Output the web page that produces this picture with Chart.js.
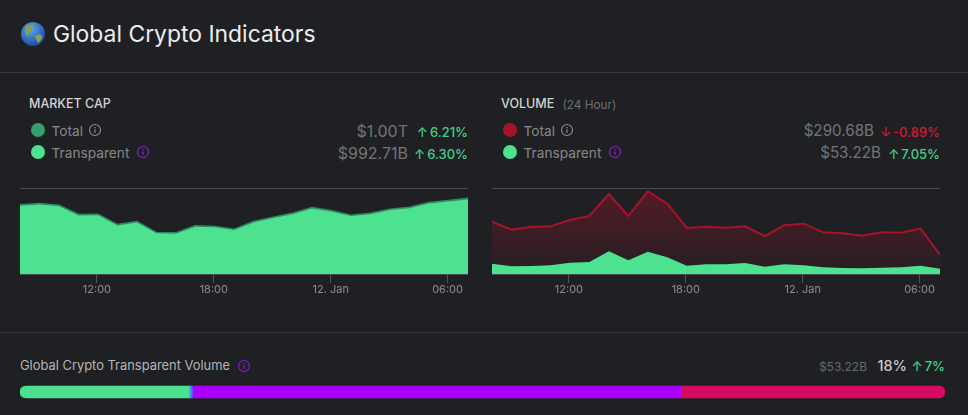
<!DOCTYPE html>
<html><head><meta charset="utf-8">
<script src="https://cdn.jsdelivr.net/npm/chart.js@4"></script>
<style>
html,body{margin:0;padding:0;background:#1f2023;overflow:hidden}
body{width:968px;height:415px;position:relative;font-family:Inter,"Noto Sans",sans-serif}
.t{position:absolute;white-space:nowrap;line-height:20px;transform:translateY(-50%)}
.r{transform:translate(-100%,-50%)}
.hr{position:absolute;left:0;width:968px;height:1px;background:#37383b}
.dot{position:absolute;width:14px;height:14px;border-radius:50%;transform:translate(-50%,-50%)}
canvas{position:absolute;display:block}
svg{position:absolute;transform:translate(-50%,-50%)}
.lab{font-size:13.7px;color:#87888a}.val{font-size:16px;color:#737476}
.pct{font-size:13px;font-weight:500;color:#41d08a;word-spacing:-1.5px}.neg{color:#cf1a33}
.head{font-size:12.5px;font-weight:500;color:#d2d3d4}
</style></head><body>
<svg style="left:33px;top:34px" width="24" height="24" viewBox="0 0 24 24" role="img" aria-label="globe"><defs><radialGradient id="g" cx=".4" cy=".3" r=".8"><stop offset="0" stop-color="#5aa9f0"/><stop offset="1" stop-color="#123f9a"/></radialGradient></defs><circle cx="12" cy="12" r="12" fill="url(#g)"/><path d="M5 5c3-3 8-3 9-2-1 2-3 2-3 4s-2 3-3 4 1 3 0 3-5-3-4-6zM14 14c2-2 6-2 7 0s-2 6-4 7c-1-2-2-4-3-7z" fill="#8aa04a"/></svg>
<div class="t" style="left:53px;top:34px;font-size:22.9px;color:#eceded" id="title">Global Crypto Indicators</div>
<div class="hr" style="top:72px"></div>
<div class="hr" style="top:332px"></div>

<div class="t head" style="left:29px;top:104px">MARKET CAP</div>
<div class="dot" style="left:38px;top:130px;background:#35a06d"></div>
<div class="t lab" style="left:51.5px;top:131px">Total</div>
<div class="dot" style="left:38px;top:152px;background:#4de290"></div>
<div class="t lab" style="left:51.5px;top:153px">Transparent</div>
<div class="t val r" style="left:408px;top:131px">$1.00T</div>
<div class="t pct r" style="left:468px;top:132px">↑ 6.21%</div>
<div class="t val r" style="left:408px;top:153px">$992.71B</div>
<div class="t pct r" style="left:468px;top:154px">↑ 6.30%</div>

<div class="t head" style="left:501px;top:104px">VOLUME</div>
<div class="t" style="left:562.5px;top:105px;font-size:11.8px;color:#6e6f71">(24 Hour)</div>
<div class="dot" style="left:510px;top:130px;background:#a8122b"></div>
<div class="t lab" style="left:523.5px;top:131px">Total</div>
<div class="dot" style="left:510px;top:152px;background:#4de290"></div>
<div class="t lab" style="left:523.5px;top:153px">Transparent</div>
<div class="t val r" style="left:874px;top:131px;font-size:15.2px">$290.68B</div>
<div class="t pct neg r" style="left:940px;top:132px">↓ -0.89%</div>
<div class="t val r" style="left:881px;top:153px;font-size:15.2px">$53.22B</div>
<div class="t pct r" style="left:940px;top:154px">↑ 7.05%</div>

<div class="t" style="left:20px;top:366px;font-size:12.9px;color:#b4b5b6">Global Crypto Transparent Volume</div>
<div class="t r" style="left:867px;top:367px;font-size:12px;color:#68696b">$53.22B</div>
<div class="t r" style="left:907px;top:366px;font-size:14.5px;font-weight:500;color:#c9cacb">18%</div>
<div class="t pct r" style="left:945px;top:366px;font-size:13px">↑ 7%</div>

<canvas id="capChart" style="left:0;top:180px;width:484px;height:120px" width="484" height="120"></canvas>
<canvas id="volChart" style="left:484px;top:180px;width:484px;height:120px" width="484" height="120"></canvas>
<canvas id="barChart" style="left:20px;top:380px;width:925px;height:24px" width="925" height="24"></canvas>

<script>
// hours since 00:00 on 11 Jan
const hours = [8.05,9.05,10.05,11.05,12.05,13.05,14.05,15.05,16.05,17.05,18.05,19.05,20.05,21.05,22.05,23.05,24.05,25.05,26.05,27.05,28.05,29.05,30.05,31.05];
const tickHours = [12,18,24,30];
const tickLabels = ["12:00","18:00","12. Jan","06:00"];
const capTotal = [915,933,911,787,791,653,693,547,542,636,627,591,693,751,804,880,836,778,804,858,884,947,973,1004];
const capTransparent = [909,926,905,781,785,648,688,543,538,631,622,587,688,746,798,874,830,772,798,852,878,940,966,993];
const capMax = 1140;
const volTotal = [801,678,719,729,826,887,1224,887,1265,1076,704,724,709,729,581,745,770,638,622,587,638,632,694,291];
const volTransparent = [158,117,122,133,173,184,347,209,342,255,128,148,148,168,112,148,133,102,92,87,97,102,128,80];
const volMax = 1308;
const shareNames = ["Transparent","Other A","Other B","Other C"];
const shareValues = [53.22,0.9,153.5,83.06];
const shareColors = ["#4bdf8e","#3a8fe0","#aa00ff","#d60a5e"];

const GREEN="#4de290", TICK="#8b8c8e";

function areaChart(id,series,maxV,padRight,padLeft){
  return new Chart(document.getElementById(id),{
    type:'line',
    data:{datasets:series.map(s=>({label:s.label,data:hours.map((h,i)=>({x:h,y:s.values[i]})),
      borderColor:s.line,borderWidth:s.width,backgroundColor:s.fill,fill:'origin',tension:0,pointRadius:0}))},
    options:{responsive:false,animation:false,
      layout:{padding:{left:padLeft,right:padRight,top:8.5,bottom:0}},
      plugins:{legend:{display:false},tooltip:{enabled:false}},
      scales:{
        x:{type:'linear',min:hours[0],max:hours[hours.length-1],
          afterBuildTicks:a=>{a.ticks=tickHours.map(v=>({value:v}))},
          afterFit:a=>{a.height=26},
          grid:{drawOnChartArea:false,drawTicks:true,tickLength:9,color:"#55565a"},
          border:{display:false},
          ticks:{color:TICK,font:{family:'Inter',size:11},padding:0,autoSkip:false,maxRotation:0,
            callback:v=>tickLabels[tickHours.indexOf(v)]}},
        y:{min:0,max:maxV,
          afterBuildTicks:a=>{a.ticks=[{value:0},{value:maxV}]},
          afterFit:a=>{a.width=0},
          grid:{color:"#4b4c50",drawTicks:false},border:{display:false},
          ticks:{display:false}}
      }}
  });
}
function redFill(c){
  const a=c.chart.chartArea; if(!a) return 'rgba(130,25,40,.4)';
  const g=c.chart.ctx.createLinearGradient(0,a.top,0,a.bottom);
  g.addColorStop(0,'rgba(150,22,42,.45)');g.addColorStop(1,'rgba(150,22,42,.05)');return g;
}
areaChart('capChart',[
  {label:'Transparent',values:capTransparent,line:GREEN,fill:GREEN,width:0},
  {label:'Total',values:capTotal,line:"#318a61",fill:"#318a61",width:2.5}
],capMax,16,20);
areaChart('volChart',[
  {label:'Transparent',values:volTransparent,line:GREEN,fill:GREEN,width:0},
  {label:'Total',values:volTotal,line:"#a8122b",fill:redFill,width:2}
],volMax,28,8);

new Chart(document.getElementById('barChart'),{
  type:'bar',
  data:{labels:['Volume'],datasets:shareValues.map((v,i)=>({label:shareNames[i],data:[v],backgroundColor:shareColors[i],
    barThickness:12,borderSkipped:false,
    borderRadius:i===0?{topLeft:6,bottomLeft:6}:i===shareValues.length-1?{topRight:6,bottomRight:6}:0}))},
  options:{indexAxis:'y',responsive:false,animation:false,
    layout:{padding:0},
    plugins:{legend:{display:false},tooltip:{enabled:false}},
    scales:{x:{stacked:true,display:false,min:0,max:shareValues.reduce((a,b)=>a+b,0)},y:{stacked:true,display:false}}}
});

// information icons
function info(x,y,c){
  const s=document.createElementNS('http://www.w3.org/2000/svg','svg');
  s.setAttribute('width','13');s.setAttribute('height','13');s.setAttribute('viewBox','0 0 13 13');
  s.style.left=x+'px';s.style.top=y+'px';
  s.innerHTML=`<circle cx="6.5" cy="6.5" r="5.5" fill="none" stroke="${c}" stroke-width="1.2"/><rect x="5.9" y="5.8" width="1.2" height="3.6" fill="${c}"/><rect x="5.9" y="3.5" width="1.2" height="1.3" fill="${c}"/>`;
  document.body.appendChild(s);
}
const GREY="#8a8b8d",PUR="#8a1bd0";
[[95,130,GREY],[143,152,PUR],[567,130,GREY],[615,152,PUR],[244,366,PUR]].forEach(a=>info(...a));
</script>
</body></html>
